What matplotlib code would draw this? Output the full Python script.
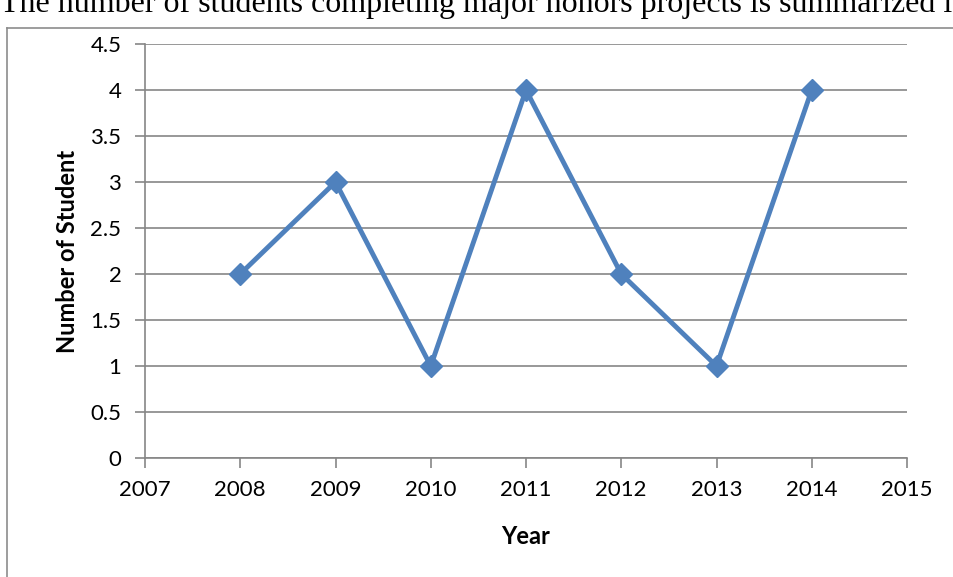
import matplotlib
matplotlib.use('Agg')
import matplotlib.pyplot as plt
from matplotlib.lines import Line2D

# data
years = [2008, 2009, 2010, 2011, 2012, 2013, 2014]
students = [2, 3, 1, 4, 2, 1, 4]
x_ticks = [2007, 2008, 2009, 2010, 2011, 2012, 2013, 2014, 2015]
y_ticks = [0, 0.5, 1, 1.5, 2, 2.5, 3, 3.5, 4, 4.5]

LINE_BLUE = '#4F81BD'
GRID = '#868686'
FONT = ['Lato', 'DejaVu Sans']

W, H = 954, 577
fig = plt.figure(figsize=(W / 100, H / 100), dpi=100)
fig.patch.set_facecolor('white')

# page text cut off at the top
fig.text(0, 1 - 12 / H, 'The number of students completing major honors projects is summarized in',
         fontsize=23, family='Liberation Serif', ha='left', va='baseline', color='black')

# chart frame (only left and top edges visible)
fig.add_artist(Line2D([7 / W, 7 / W], [0, 1 - 28 / H], transform=fig.transFigure,
                      color='#8C8C8C', lw=1.2))
fig.add_artist(Line2D([7 / W, 1], [1 - 28 / H, 1 - 28 / H], transform=fig.transFigure,
                      color='#8C8C8C', lw=1.2))

ax = fig.add_axes([145 / W, 1 - 458 / H, (907 - 145) / W, (458 - 44) / H])
ax.plot(years, students, color=LINE_BLUE, lw=3.5, marker='D', markersize=11,
        markerfacecolor=LINE_BLUE, markeredgecolor=LINE_BLUE, zorder=3)

ax.set_xlim(2007, 2015)
ax.set_ylim(0, 4.5)
ax.set_xticks(x_ticks)
ax.set_yticks(y_ticks)
ax.set_yticklabels([('%g' % v) for v in y_ticks])
ax.yaxis.grid(True, color=GRID, lw=1.2)
ax.set_axisbelow(True)

for s in ['top', 'right']:
    ax.spines[s].set_visible(False)
for s in ['left', 'bottom']:
    ax.spines[s].set_color(GRID)
    ax.spines[s].set_linewidth(1.2)

ax.tick_params(axis='both', colors=GRID, length=7, width=1.2, labelcolor='black',
               labelsize=16)
ax.tick_params(axis='x', pad=9)
ax.tick_params(axis='y', pad=10)
for lbl in ax.get_xticklabels() + ax.get_yticklabels():
    lbl.set_family(FONT)

ax.set_xlabel('Year', fontsize=17, fontweight='bold', family=FONT, labelpad=18)
ax.set_ylabel('Number of Student', fontsize=17, fontweight='bold', family=FONT, labelpad=8)

fig.savefig('out.png', dpi=100, facecolor='white')
